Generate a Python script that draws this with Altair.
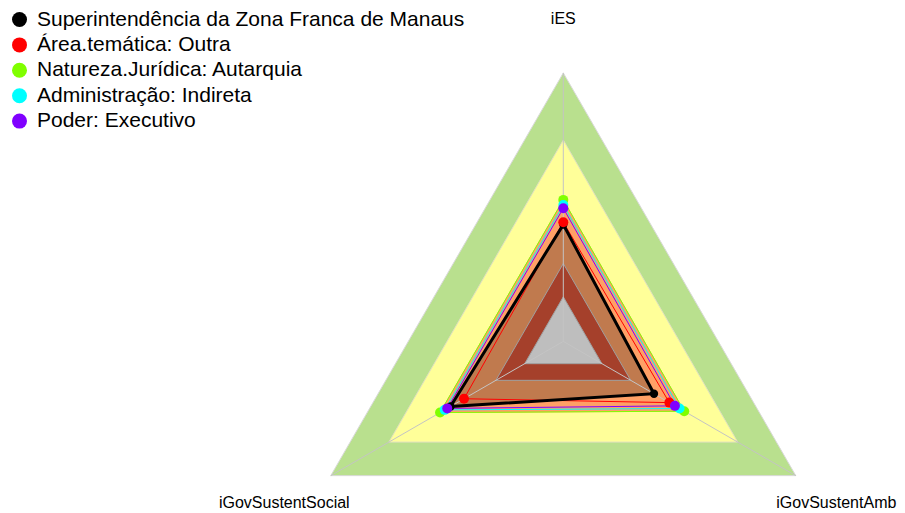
import altair as alt
import numpy as np
import pandas as pd

# ---- data -------------------------------------------------------------
axis_names = ["iES", "iGovSustentSocial", "iGovSustentAmb"]
series_names = [
    "Superintendência da Zona Franca de Manaus",
    "Área.temática: Outra",
    "Natureza.Jurídica: Autarquia",
    "Administração: Indireta",
    "Poder: Executivo",
]
val_ies = [0.435, 0.444, 0.527, 0.508, 0.496]
val_social = [0.485, 0.427, 0.530, 0.510, 0.499]
val_amb = [0.390, 0.456, 0.520, 0.500, 0.480]
band_levels = [1.0, 0.75, 0.29, 0.166]

# ---- styles -----------------------------------------------------------
series_colors = ["#000000", "#FF0000", "#80FF00", "#00FFFF", "#8000FF"]
band_colors = ["#B9E08E", "#FFFF99", "#A5402B", "#BEBEBE"]
salmon = "#FFA066"
brown = "#C07A4E"
angles = np.deg2rad([90.0, 210.0, 330.0])
label_radius = 1.2

W, H = 889, 502
PX = 268.5
CX, CY = 555.3, 333.4
XDOM = [-CX / PX, (W - CX) / PX]
YDOM = [-(H - CY) / PX, CY / PX]

xs = alt.Scale(domain=XDOM, nice=False, zero=False)
ys = alt.Scale(domain=YDOM, nice=False, zero=False)
X = alt.X("x:Q", scale=xs, axis=None)
Y = alt.Y("y:Q", scale=ys, axis=None)

# ---- build tables -----------------------------------------------------
band_rows = []
for b, lev in enumerate(band_levels):
    for k, a in enumerate(angles):
        band_rows.append({"band": b, "k": k, "x": lev * np.cos(a), "y": lev * np.sin(a)})
bands = pd.DataFrame(band_rows)

ser_rows = []
for s, name in enumerate(series_names):
    vals = [val_ies[s], val_social[s], val_amb[s]]
    for k, a in enumerate(angles):
        ser_rows.append({"series": name, "sidx": s, "k": k, "axis": axis_names[k],
                         "value": vals[k],
                         "x": vals[k] * np.cos(a), "y": vals[k] * np.sin(a)})
ser = pd.DataFrame(ser_rows)

spoke_rows = []
for k, a in enumerate(angles):
    spoke_rows.append({"axis": axis_names[k], "k": 0, "x": 0.0, "y": 0.0})
    spoke_rows.append({"axis": axis_names[k], "k": 1, "x": np.cos(a), "y": np.sin(a)})
spokes = pd.DataFrame(spoke_rows)

labels = pd.DataFrame({
    "axis": axis_names,
    "x": [label_radius * np.cos(a) for a in angles],
    "y": [label_radius * np.sin(a) for a in angles],
})


def band_layer(b, stroke, sw):
    return alt.Chart(bands[bands.band == b]).mark_line(
        interpolate="linear-closed", fill=band_colors[b], stroke=stroke, strokeWidth=sw
    ).encode(x=X, y=Y, order="k:Q")


outer = band_layer(0, "#D9D9D9", 1)
yellow = band_layer(1, "#E0E0C0", 1)

fill_others = alt.Chart(ser[ser.sidx > 0]).mark_line(
    interpolate="linear-closed", fill=salmon, stroke=salmon, strokeWidth=1
).encode(x=X, y=Y, detail="series:N", order="k:Q")

fill_black = alt.Chart(ser[ser.sidx == 0]).mark_line(
    interpolate="linear-closed", fill=brown, stroke=brown, strokeWidth=1
).encode(x=X, y=Y, order="k:Q")

darkred = band_layer(2, "#A0A0A0", 1)
grey = band_layer(3, "#A0A0A0", 1)

spoke_layer = alt.Chart(spokes).mark_line(stroke="#C4C4C4", strokeWidth=1).encode(
    x=X, y=Y, detail="axis:N", order="k:Q")

legend = alt.Legend(
    title=None, orient="none", legendX=1, legendY=1,
    symbolType="circle", symbolSize=225, symbolStrokeWidth=0,
    symbolOpacity=1, labelFontSize=21, labelFont="Liberation Sans",
    labelColor="#000000", labelLimit=0, labelOffset=7,
    rowPadding=3.4, padding=0)
color_scale = alt.Scale(domain=series_names, range=series_colors)
COLOR = alt.Color("series:N", scale=color_scale, legend=legend)

lines_others = alt.Chart(ser[ser.sidx > 0]).mark_line(
    interpolate="linear-closed", strokeWidth=1
).encode(x=X, y=Y, order="k:Q", color=COLOR)

line_black = alt.Chart(ser[ser.sidx == 0]).mark_line(
    interpolate="linear-closed", strokeWidth=3, color="#000000"
).encode(x=X, y=Y, order="k:Q")

points_black = alt.Chart(ser[ser.sidx == 0]).mark_circle(
    opacity=1, size=70, color="#000000"
).encode(x=X, y=Y, tooltip=["series:N", "axis:N", "value:Q"])

points = alt.Chart(ser[ser.sidx > 0]).mark_circle(opacity=1, size=100).encode(
    x=X, y=Y,
    color=COLOR,
    order=alt.Order("sidx:Q"),
    tooltip=["series:N", "axis:N", "value:Q"],
)

text_style = dict(font="Liberation Sans", fontSize=16, baseline="middle", color="#000000")
label_left = alt.Chart(labels[labels.axis != "iGovSustentAmb"]).mark_text(
    align="center", **text_style
).encode(x=X, y=Y, text="axis:N")
label_right = alt.Chart(labels[labels.axis == "iGovSustentAmb"]).mark_text(
    align="center", dx=-6, **text_style
).encode(x=X, y=Y, text="axis:N")

chart = alt.layer(
    outer, yellow, fill_others, fill_black, darkred, grey, spoke_layer,
    lines_others, line_black, points_black, points, label_left, label_right
).properties(
    width=W, height=H, autosize=alt.AutoSizeParams(type="none"), padding=0,
    background="#FFFFFF"
).configure_view(stroke=None)

chart.save("out.html", embed_options={"renderer": "svg", "actions": False})
